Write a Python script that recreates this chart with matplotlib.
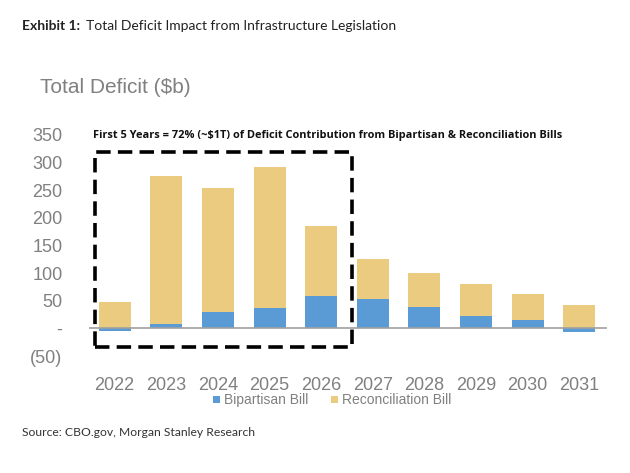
import matplotlib
matplotlib.use("Agg")
import matplotlib.pyplot as plt
from matplotlib.patches import Rectangle
import numpy as np

years = ["2022", "2023", "2024", "2025", "2026", "2027", "2028", "2029", "2030", "2031"]
bipartisan = [-4, 9, 29, 37, 58, 53, 38, 23, 16, -7]
reconciliation = [48, 266, 225, 254, 128, 72, 63, 57, 46, 43]
ytick_vals = [-50, 0, 50, 100, 150, 200, 250, 300, 350]
ytick_labels = ["(50)", "-", "50", "100", "150", "200", "250", "300", "350"]

BLUE = "#5B9BD5"
GOLD = "#EBCB80"
GRAY = "#808080"

fig = plt.figure(figsize=(6.3, 4.73), dpi=100)
ax = fig.add_axes([0.141, 0.247, 0.822, 0.468])

x = np.arange(len(years))
w = 0.62
bip = np.array(bipartisan, dtype=float)
rec = np.array(reconciliation, dtype=float)
ax.bar(x, bip, width=w, color=BLUE, label="Bipartisan Bill", zorder=2)
rec_bottom = np.where(bip > 0, bip, 0)
ax.bar(x, rec, bottom=rec_bottom, width=w, color=GOLD, label="Reconciliation Bill", zorder=2)

ax.axhline(0, color="#A0A0A0", lw=1.2, zorder=3)
ax.set_xlim(-0.5, 9.53)
ax.set_ylim(-50, 350)
for s in ax.spines.values():
    s.set_visible(False)
ax.set_yticks(ytick_vals)
ax.set_yticklabels(ytick_labels)
ax.set_xticks(x)
ax.set_xticklabels(years)
ax.tick_params(axis="both", length=0, labelsize=13, labelcolor=GRAY)
ax.tick_params(axis="y", pad=19)
ax.tick_params(axis="x", pad=15)
for lab in ax.get_xticklabels() + ax.get_yticklabels():
    lab.set_family("Liberation Sans")

# dashed box around first five years
box = Rectangle((-0.39, -33), 4.98, 352, fill=False, edgecolor="black",
                lw=2.6, linestyle=(0, (4, 2)), zorder=4, clip_on=False)
ax.add_patch(box)

ax.text(-0.41, 348, "First 5 Years = 72% (~$1T) of Deficit Contribution from Bipartisan & Reconciliation Bills",
        fontsize=7.9, fontweight="bold", family="Open Sans", color="#111111",
        ha="left", va="center")

leg = ax.legend(loc="center", bbox_to_anchor=(0.47, -0.2), ncol=2, frameon=False,
                handlelength=0.5, handleheight=0.5, handletextpad=0.3, columnspacing=1.6,
                prop={"family": "Liberation Sans", "size": 10})
for t in leg.get_texts():
    t.set_color(GRAY)

fig.text(0.064, 0.814, "Total Deficit ($b)", fontsize=15, color=GRAY,
         family="Liberation Sans", ha="left", va="center")

fig.text(0.035, 0.945, "Exhibit 1:", fontsize=10, fontweight="bold", family="Lato",
         color="#222222", ha="left", va="center")
fig.text(0.137, 0.945, "Total Deficit Impact from Infrastructure Legislation", fontsize=10,
         family="Lato", color="#222222", ha="left", va="center")
fig.text(0.035, 0.085, "Source: CBO.gov, Morgan Stanley Research", fontsize=8.7,
         family="Lato", color="#333333", ha="left", va="center")

fig.savefig("out.png", dpi=100, facecolor="white")
